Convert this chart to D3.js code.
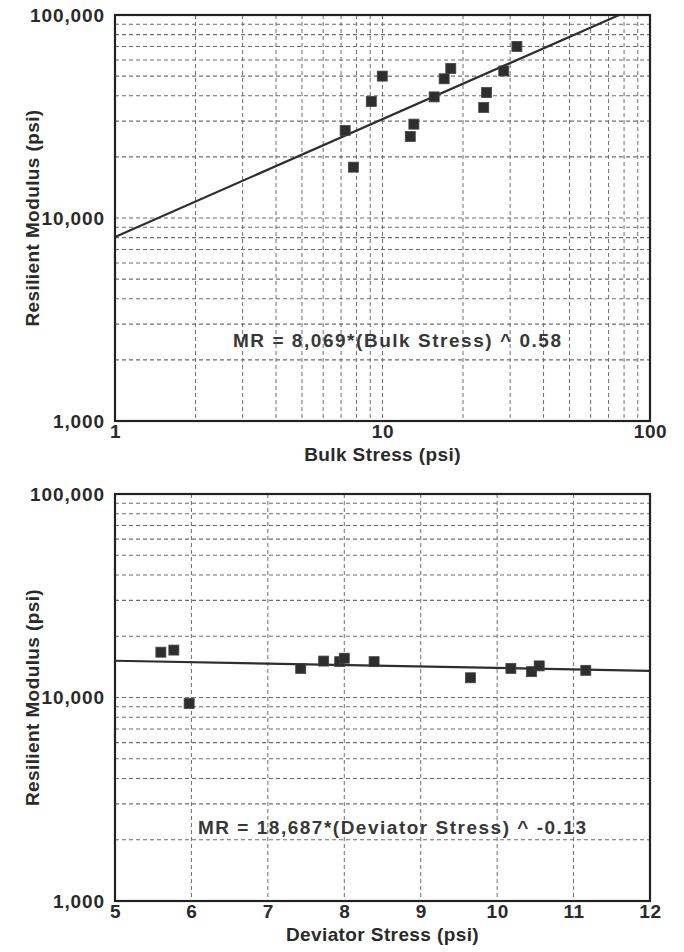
<!DOCTYPE html>
<html><head><meta charset="utf-8">
<script src="https://cdn.jsdelivr.net/npm/d3@7"></script>
<style>body{margin:0;background:#fff}svg{display:block}</style>
</head><body>
<svg id="c" width="684" height="952"></svg>
<script>
// ---- data ----
const bulkX = [7.25, 7.78, 9.08, 9.98, 12.7, 13.1, 15.6, 17.0, 18.0, 23.9, 24.5, 28.4, 31.8];
const bulkY = [27000, 17800, 37500, 50000, 25200, 29000, 39500, 48500, 54500, 35000, 41500, 53000, 70000];
const bulkFitX = [1, 76.7];
const bulkFitY = [8069, 100000];
const devX = [5.60, 5.77, 5.97, 7.43, 7.73, 7.94, 8.00, 8.39, 9.65, 10.18, 10.45, 10.55, 11.16];
const devY = [16700, 17100, 9340, 13900, 15100, 15000, 15600, 15000, 12500, 13900, 13400, 14300, 13600];
const devFitX = [5, 12];
const devFitY = [15160, 13530];
const yTickValues = [1000, 10000, 100000];
const yTickLabels = ["1,000", "10,000", "100,000"];
const bulkTickValues = [1, 10, 100];
const bulkTickLabels = ["1", "10", "100"];
const devTickValues = [5, 6, 7, 8, 9, 10, 11, 12];
const devTickLabels = ["5", "6", "7", "8", "9", "10", "11", "12"];
const yTitle = "Resilient Modulus (psi)";
const bulkTitle = "Bulk Stress (psi)";
const devTitle = "Deviator Stress (psi)";
const bulkEq = "MR = 8,069*(Bulk Stress) ^ 0.58";
const devEq = "MR = 18,687*(Deviator Stress) ^ -0.13";

const svg = d3.select("#c");
const FONT = "'Liberation Sans', Arial, Helvetica, sans-serif";

function panel(cfg) {
  const {left, right, top, bottom, x, xTickValues, xTickLabels, xGrid, px, py, fx, fy, xTitle, eq, eqX, eqY, eqW} = cfg;
  x.range([left, right]);
  const y = d3.scaleLog().domain([1000, 100000]).range([bottom, top]);
  const g = svg.append("g");
  const grid = g.append("g").attr("fill", "none").attr("stroke", "#6e6e6e").attr("stroke-dasharray", "4,3");
  grid.selectAll("line.h").data(y.ticks().filter(v => v > 1000 && v < 100000)).join("line")
    .attr("x1", left).attr("x2", right)
    .attr("y1", d => y(d)).attr("y2", d => y(d)).attr("stroke-width", 1.1);
  grid.selectAll("line.v").data(xGrid).join("line")
    .attr("y1", top).attr("y2", bottom)
    .attr("x1", d => x(d)).attr("x2", d => x(d)).attr("stroke-width", 1);
  const line = d3.line().x(d => x(d[0])).y(d => y(d[1]));
  g.append("path").datum(d3.zip(fx, fy)).attr("d", line)
    .attr("fill", "none").attr("stroke", "#2e2e2e").attr("stroke-width", 2.2);
  g.selectAll("rect.pt").data(d3.zip(px, py)).join("rect")
    .attr("x", d => x(d[0]) - 5).attr("y", d => y(d[1]) - 5)
    .attr("width", 10).attr("height", 10)
    .attr("fill", "#2e2e2e").attr("stroke", "#444").attr("stroke-width", 0.8);
  g.append("rect").attr("x", left).attr("y", top).attr("width", right - left).attr("height", bottom - top)
    .attr("fill", "none").attr("stroke", "#222").attr("stroke-width", 2.2);
  const ya = d3.axisLeft(y).tickValues(yTickValues).tickFormat((d, i) => yTickLabels[i]).tickSize(0).tickPadding(10);
  const yg = g.append("g").attr("transform", `translate(${left},0)`).call(ya);
  yg.select(".domain").remove();
  yg.selectAll("text").attr("font-family", FONT).attr("font-weight", "bold").attr("font-size", 19)
    .attr("letter-spacing", 0.9).attr("fill", "#2a2a2a");
  const xa = d3.axisBottom(x).tickValues(xTickValues).tickFormat((d, i) => xTickLabels[i]).tickSize(0).tickPadding(3);
  const xg = g.append("g").attr("transform", `translate(0,${bottom})`).call(xa);
  xg.select(".domain").remove();
  xg.selectAll("text").attr("font-family", FONT).attr("font-weight", "bold").attr("font-size", 19)
    .attr("letter-spacing", 0.6).attr("fill", "#2a2a2a");
  g.append("text").attr("x", (left + right) / 2).attr("y", bottom + 40).attr("text-anchor", "middle")
    .attr("font-family", FONT).attr("font-weight", "bold").attr("font-size", 19).attr("letter-spacing", 0.4)
    .attr("fill", "#2a2a2a").text(xTitle);
  g.append("text").attr("transform", `translate(39,${(top + bottom) / 2}) rotate(-90)`).attr("text-anchor", "middle")
    .attr("font-family", FONT).attr("font-weight", "bold").attr("font-size", 19).attr("letter-spacing", 0.4)
    .attr("fill", "#2a2a2a").text(yTitle);
  g.append("text").attr("x", eqX).attr("y", eqY).attr("text-anchor", "start")
    .attr("font-family", FONT).attr("font-weight", "bold").attr("font-size", 19)
    .attr("textLength", eqW).attr("lengthAdjust", "spacing")
    .attr("fill", "#383838").text(eq);
}

const xBulk = d3.scaleLog().domain([1, 100]);
panel({left: 115, right: 650, top: 15, bottom: 421, x: xBulk,
  xTickValues: bulkTickValues, xTickLabels: bulkTickLabels,
  xGrid: xBulk.ticks().filter(v => v > 1 && v < 100),
  px: bulkX, py: bulkY, fx: bulkFitX, fy: bulkFitY, xTitle: bulkTitle,
  eq: bulkEq, eqX: 233, eqY: 347, eqW: 328});

const xDev = d3.scaleLinear().domain([5, 12]);
panel({left: 115, right: 650, top: 494, bottom: 901, x: xDev,
  xTickValues: devTickValues, xTickLabels: devTickLabels,
  xGrid: devTickValues.filter(v => v > 5 && v < 12),
  px: devX, py: devY, fx: devFitX, fy: devFitY, xTitle: devTitle,
  eq: devEq, eqX: 198, eqY: 834, eqW: 388});
</script>
</body></html>
